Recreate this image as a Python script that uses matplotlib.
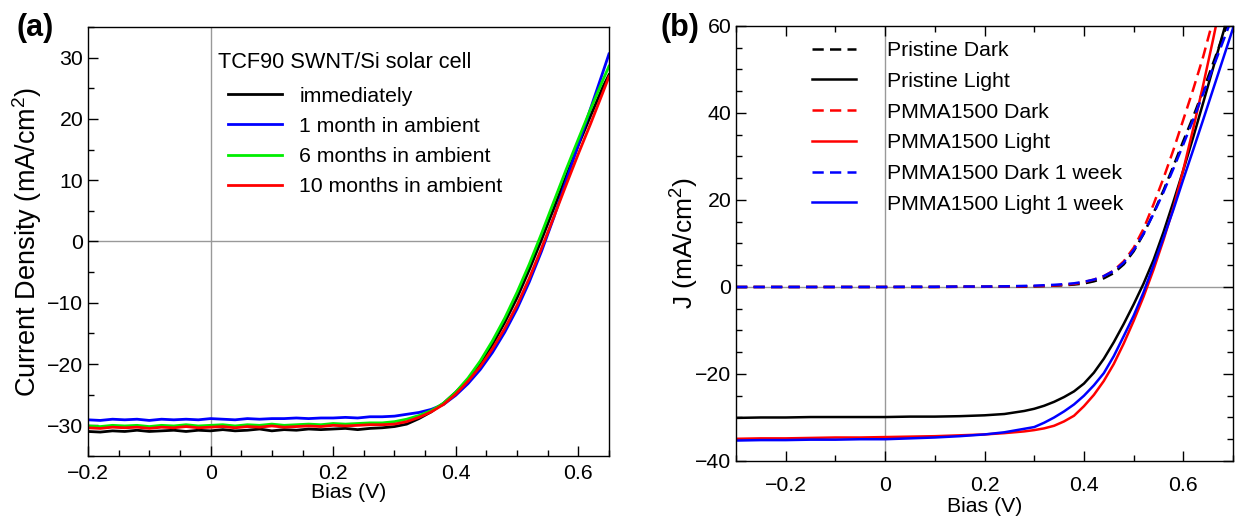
import matplotlib
matplotlib.use('Agg')
import matplotlib.pyplot as plt
from matplotlib.ticker import MultipleLocator

plt.rcParams['font.family'] = ['Liberation Sans', 'DejaVu Sans']
plt.rcParams['mathtext.fontset'] = 'custom'
plt.rcParams['mathtext.rm'] = 'Liberation Sans'
plt.rcParams['mathtext.it'] = 'Liberation Sans:italic'

# ---- panel (a): TCF90 SWNT/Si cell, ageing in ambient ----
bias_a = [-0.20, -0.18, -0.16, -0.14, -0.12, -0.10, -0.08, -0.06, -0.04, -0.02,
          0.00, 0.02, 0.04, 0.06, 0.08, 0.10, 0.12, 0.14, 0.16, 0.18,
          0.20, 0.22, 0.24, 0.26, 0.28, 0.30, 0.32, 0.34, 0.36, 0.38,
          0.40, 0.42, 0.44, 0.46, 0.48, 0.50, 0.52, 0.54, 0.56, 0.58,
          0.60, 0.62, 0.64, 0.65]
j_immediately = [-31.0, -31.1, -30.9, -31.0, -30.8, -31.0, -30.9, -30.8, -31.0, -30.8,
                 -30.9, -30.7, -30.9, -30.8, -30.6, -30.9, -30.7, -30.8, -30.6, -30.7,
                 -30.6, -30.5, -30.7, -30.5, -30.4, -30.2, -29.8, -28.9, -27.8, -26.4,
                 -24.6, -22.5, -19.9, -16.8, -13.2, -9.2, -4.6, 0.3, 5.4, 10.6,
                 15.7, 20.5, 25.2, 27.2]
j_1month = [-29.1, -29.2, -29.0, -29.1, -29.0, -29.2, -29.0, -29.1, -29.0, -29.1,
            -28.9, -29.0, -29.1, -28.9, -29.0, -28.9, -28.9, -28.8, -28.9, -28.8,
            -28.8, -28.7, -28.8, -28.6, -28.6, -28.5, -28.2, -27.9, -27.4, -26.6,
            -25.1, -23.2, -20.9, -18.1, -14.8, -11.0, -6.6, -1.6, 3.9, 9.9,
            15.8, 21.7, 27.6, 30.6]
j_6months = [-30.1, -30.2, -30.0, -30.1, -30.0, -30.2, -30.0, -30.1, -29.9, -30.1,
             -30.0, -29.9, -30.1, -29.9, -30.0, -29.8, -30.0, -29.9, -29.8, -29.9,
             -29.7, -29.8, -29.7, -29.6, -29.6, -29.4, -29.0, -28.4, -27.6, -26.4,
             -24.6, -22.3, -19.5, -16.2, -12.5, -8.3, -3.7, 1.3, 6.5, 11.7,
             16.7, 21.6, 26.3, 28.6]
j_10months = [-30.4, -30.5, -30.3, -30.4, -30.3, -30.5, -30.3, -30.4, -30.2, -30.4,
              -30.3, -30.2, -30.4, -30.2, -30.3, -30.1, -30.3, -30.2, -30.1, -30.2,
              -30.0, -30.1, -30.0, -29.9, -29.9, -29.8, -29.4, -28.7, -27.8, -26.6,
              -24.9, -22.8, -20.4, -17.5, -14.2, -10.4, -6.0, -1.1, 4.0, 9.2,
              14.3, 19.2, 24.3, 26.9]

# ---- panel (b): pristine vs PMMA1500 coated ----
bias_b = [-0.30, -0.25, -0.20, -0.15, -0.10, -0.05, 0.00, 0.05, 0.10, 0.15,
          0.20, 0.24, 0.28, 0.30, 0.32, 0.34, 0.36, 0.38, 0.40, 0.42,
          0.44, 0.46, 0.48, 0.50, 0.52, 0.54, 0.56, 0.58, 0.60, 0.62,
          0.64, 0.66, 0.68, 0.70]
pristine_dark = [0.0, 0.0, 0.0, 0.0, 0.0, 0.0, 0.0, 0.0, 0.0, 0.05,
                 0.05, 0.1, 0.1, 0.15, 0.2, 0.3, 0.4, 0.55, 0.8, 1.3,
                 2.0, 3.2, 5.2, 8.2, 12.2, 17.0, 22.2, 27.8, 33.6, 39.2,
                 45.2, 51.5, 57.8, 64.0]
pristine_light = [-30.1, -30.0, -30.0, -29.9, -29.9, -29.9, -29.9, -29.8, -29.8, -29.7,
                  -29.5, -29.2, -28.5, -28.0, -27.3, -26.4, -25.3, -24.0, -22.2, -19.7,
                  -16.5, -12.7, -8.5, -4.0, 0.8, 6.2, 12.6, 19.6, 26.9, 34.5,
                  42.4, 50.4, 58.4, 66.4]
pmma_dark = [0.0, 0.0, 0.0, 0.0, 0.0, 0.0, 0.0, 0.0, 0.0, 0.05,
             0.05, 0.1, 0.15, 0.2, 0.25, 0.35, 0.5, 0.7, 1.1, 1.7,
             2.5, 3.8, 5.9, 9.0, 13.4, 19.0, 25.0, 31.5, 38.5, 45.5,
             53.0, 61.5, 70.0, 78.0]
pmma_light = [-34.9, -34.8, -34.8, -34.7, -34.6, -34.6, -34.5, -34.4, -34.3, -34.1,
              -33.9, -33.6, -33.2, -32.9, -32.5, -31.9, -30.9, -29.6, -27.4, -24.8,
              -21.6, -17.7, -13.0, -7.8, -2.2, 4.0, 10.8, 18.2, 27.0, 36.5,
              46.5, 57.0, 68.0, 79.0]
pmma_dark_1wk = [0.0, 0.0, 0.0, 0.0, 0.0, 0.0, 0.0, 0.05, 0.05, 0.1,
                 0.1, 0.15, 0.25, 0.3, 0.4, 0.5, 0.65, 0.85, 1.2, 1.7,
                 2.5, 3.7, 5.6, 8.5, 12.3, 16.8, 21.8, 27.2, 32.8, 38.5,
                 44.5, 50.5, 56.5, 62.5]
pmma_light_1wk = [-35.3, -35.2, -35.2, -35.1, -35.1, -35.0, -35.0, -34.8, -34.6, -34.3,
                  -33.9, -33.4, -32.6, -32.2, -31.2, -30.0, -28.6, -27.0, -25.0, -22.6,
                  -19.8, -15.9, -11.3, -6.6, -1.2, 5.0, 11.3, 17.8, 24.8, 31.6,
                  38.5, 45.5, 52.5, 59.5]

FS = 15.3
DASH = (0, (4.5, 2.5))
fig = plt.figure(figsize=(12.41, 5.21), dpi=100)
ax1 = fig.add_axes([0.0709, 0.1248, 0.4198, 0.8234])
ax2 = fig.add_axes([0.5931, 0.1152, 0.4005, 0.8349])

# (a)
ax1.axhline(0, color='#999999', lw=1.0, zorder=1)
ax1.axvline(0, color='#999999', lw=1.0, zorder=1)
ax1.plot(bias_a, j_immediately, color='black', lw=2.0, label='immediately')
ax1.plot(bias_a, j_1month, color='#0000ff', lw=2.0, label='1 month in ambient')
ax1.plot(bias_a, j_6months, color='#00ee00', lw=2.0, label='6 months in ambient')
ax1.plot(bias_a, j_10months, color='#ff0000', lw=2.0, label='10 months in ambient')
ax1.set_xlim(-0.2, 0.65)
ax1.set_ylim(-35, 35)
ax1.set_xticks([-0.2, 0, 0.2, 0.4, 0.6], ['\u22120.2', '0', '0.2', '0.4', '0.6'])
ax1.set_yticks([-30, -20, -10, 0, 10, 20, 30],
               ['\u221230', '\u221220', '\u221210', '0', '10', '20', '30'])
ax1.xaxis.set_minor_locator(MultipleLocator(0.05))
ax1.yaxis.set_minor_locator(MultipleLocator(5))
ax1.tick_params(which='both', direction='in', top=False, right=False, labelsize=FS)
ax1.tick_params(which='major', length=7, width=1)
ax1.tick_params(which='minor', length=4, width=1)
ax1.tick_params(axis='x', pad=5.5)
ax1.set_xlabel('Bias (V)', fontsize=FS, labelpad=0)
ax1.set_ylabel('Current Density (mA/cm$^2$)', fontsize=19.5, labelpad=2)
ax1.text(0.2495, 0.918, 'TCF90 SWNT/Si solar cell', transform=ax1.transAxes,
         fontsize=FS + 0.4, ha='left', va='center')
ax1.legend(loc='upper left', bbox_to_anchor=(0.269, 0.861), frameon=False,
           fontsize=FS, handlelength=2.55, handletextpad=0.8, labelspacing=0.53,
           borderpad=0, borderaxespad=0)

# (b)
ax2.axhline(0, color='#999999', lw=1.0, zorder=1)
ax2.axvline(0, color='#999999', lw=1.0, zorder=1)
ax2.plot(bias_b, pristine_dark, color='black', lw=1.8, ls=DASH, label='Pristine Dark')
ax2.plot(bias_b, pristine_light, color='black', lw=1.8, label='Pristine Light')
ax2.plot(bias_b, pmma_dark, color='#ff0000', lw=1.8, ls=DASH, label='PMMA1500 Dark')
ax2.plot(bias_b, pmma_light, color='#ff0000', lw=1.8, label='PMMA1500 Light')
ax2.plot(bias_b, pmma_dark_1wk, color='#0000ff', lw=1.8, ls=DASH, label='PMMA1500 Dark 1 week')
ax2.plot(bias_b, pmma_light_1wk, color='#0000ff', lw=1.8, label='PMMA1500 Light 1 week')
ax2.set_xlim(-0.3, 0.7)
ax2.set_ylim(-40, 60)
ax2.set_xticks([-0.2, 0, 0.2, 0.4, 0.6], ['\u22120.2', '0', '0.2', '0.4', '0.6'])
ax2.set_yticks([-40, -20, 0, 20, 40, 60], ['\u221240', '\u221220', '0', '20', '40', '60'])
ax2.xaxis.set_minor_locator(MultipleLocator(0.1))
ax2.yaxis.set_minor_locator(MultipleLocator(5))
ax2.tick_params(which='both', direction='in', top=True, right=True, labelsize=FS)
ax2.tick_params(which='major', length=7, width=1)
ax2.tick_params(which='minor', length=4, width=1)
ax2.tick_params(axis='x', pad=10.5)
ax2.set_xlabel('Bias (V)', fontsize=FS, labelpad=1.5)
ax2.set_ylabel('J (mA/cm$^2$)', fontsize=19, labelpad=-4)
ax2.legend(loc='upper left', bbox_to_anchor=(0.153, 0.965), frameon=False, fontsize=FS,
           handlelength=2.07, handletextpad=1.45, labelspacing=0.55,
           borderpad=0, borderaxespad=0)

for ax in (ax1, ax2):
    for s in ax.spines.values():
        s.set_linewidth(1.0)

fig.text(0.013, 0.946, '(a)', fontsize=22, fontweight='bold', va='center')
fig.text(0.532, 0.946, '(b)', fontsize=22, fontweight='bold', va='center')

fig.savefig('out.png', dpi=100)
